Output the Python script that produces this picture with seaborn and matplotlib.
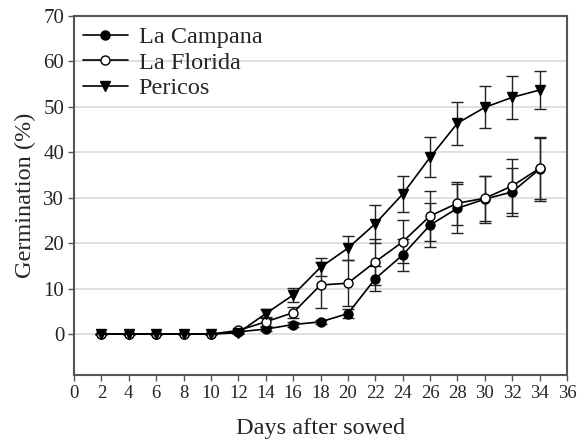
import numpy as np
import pandas as pd
import matplotlib
matplotlib.use('Agg')
import matplotlib.pyplot as plt
import seaborn as sns

# Data
days = [2, 4, 6, 8, 10, 12, 14, 16, 18, 20, 22, 24, 26, 28, 30, 32, 34]
campana = [0, 0, 0, 0, 0, 0.5, 1.1, 2.1, 2.7, 4.5, 12.2, 17.4, 24.0, 27.7, 29.7, 31.3, 36.3]
campana_err = [0, 0, 0, 0, 0, 0.2, 0.5, 0.5, 0.5, 1.0, 2.8, 3.5, 4.8, 5.4, 5.2, 5.3, 7.0]
florida = [0, 0, 0, 0, 0, 0.8, 2.7, 4.7, 10.8, 11.2, 15.9, 20.3, 26.0, 28.8, 29.9, 32.6, 36.5]
florida_err = [0, 0, 0, 0, 0, 0.3, 1.0, 1.2, 5.0, 5.0, 5.0, 4.7, 5.5, 4.7, 5.0, 6.0, 6.7]
pericos = [0, 0, 0, 0, 0, 0.3, 4.5, 8.6, 14.7, 18.9, 24.3, 30.8, 38.9, 46.4, 49.9, 52.1, 53.7]
pericos_err = [0, 0, 0, 0, 0, 0.3, 1.0, 1.5, 2.0, 2.7, 4.2, 4.0, 4.4, 4.7, 4.6, 4.8, 4.2]

series = [
    ('La Campana', campana, campana_err, 'o', 'black'),
    ('La Florida', florida, florida_err, 'o', 'white'),
    ('Pericos', pericos, pericos_err, 'v', 'black'),
]

sns.set_theme(style='white')
plt.rcParams['font.family'] = ['Liberation Serif', 'DejaVu Serif']

fig = plt.figure(figsize=(5.78, 4.43), dpi=100)
ax = fig.add_axes([0.128, 0.1535, 0.853, 0.8104])

for name, vals, errs, mk, face in series:
    df = pd.DataFrame({'day': days, 'val': vals})
    ax.errorbar(days, vals, yerr=errs, fmt='none', ecolor='#222222',
                elinewidth=1.0, capsize=4, capthick=1.0, zorder=2)
    sns.lineplot(data=df, x='day', y='val', ax=ax, color='black', linewidth=1.2,
                 marker=mk, markersize=7.5 if mk == 'v' else 6.5,
                 markerfacecolor=face, markeredgecolor='black', markeredgewidth=1.0,
                 label=name, zorder=3)

ax.set_xlim(0, 36)
ax.set_ylim(-9, 70)
ax.set_xticks(range(0, 37, 2))
ax.set_yticks(range(0, 71, 10))
for v in range(0, 70, 10):
    ax.axhline(v, color='#d9d9d9', linewidth=1.2, zorder=0)

for s in ax.spines.values():
    s.set_color('#555555')
    s.set_linewidth(1.5)

ax.tick_params(axis='both', direction='out', length=4, width=1, color='#555555',
               bottom=True, left=True, pad=3)
ax.tick_params(axis='x', labelsize=13.5)
ax.tick_params(axis='y', labelsize=15)
ax.set_xlabel('Days after sowed', fontsize=17.5, labelpad=12)
ax.set_ylabel('Germination (%)', fontsize=17.5, labelpad=5)

ax.legend(loc='upper left', frameon=False, fontsize=17.5, handlelength=1.85,
          handletextpad=0.45, labelspacing=0.15, borderpad=0, borderaxespad=0,
          bbox_to_anchor=(0.018, 0.972))

fig.savefig('out.png', dpi=100)
